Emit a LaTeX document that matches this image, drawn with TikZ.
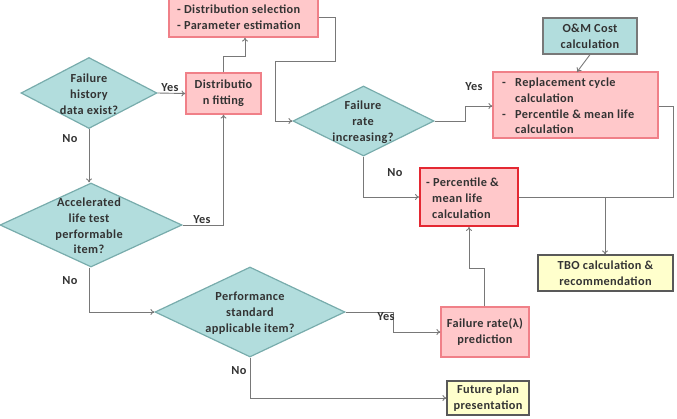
\documentclass[tikz,border=0pt]{standalone}
\usepackage{fontspec}
\setmainfont[LetterSpace=3]{Carlito}
\usetikzlibrary{shapes.geometric,arrows.meta}
\definecolor{tealfill}{RGB}{178,221,221}
\definecolor{tealline}{RGB}{120,172,172}
\definecolor{pinkfill}{RGB}{255,200,202}
\definecolor{pinkline}{RGB}{240,128,136}
\definecolor{redline}{RGB}{228,40,50}
\definecolor{yelfill}{RGB}{255,255,204}
\definecolor{conn}{RGB}{120,120,120}
\tikzset{
  x=1pt,y=-1pt,
  every node/.style={font=\bfseries\fontsize{12.3}{15.8}\selectfont, text=black!80},
  dia/.style={shape=diamond, draw=tealline, fill=tealfill, line width=1.2pt, inner sep=0pt},
  diatext/.style={align=center, inner sep=0pt},
  pinkbox/.style={draw=pinkline, fill=pinkfill, line width=1.2pt, inner sep=0pt},
  redbox/.style={draw=redline, fill=pinkfill, line width=1.8pt, inner sep=0pt},
  tealbox/.style={draw=conn, fill=tealfill, line width=1.2pt, inner sep=0pt},
  yelbox/.style={draw=black!65, fill=yelfill, line width=1.2pt, inner sep=0pt},
  conn/.style={draw=conn, line width=0.9pt, -{To[length=4pt,width=6pt]}},
  plain/.style={draw=conn, line width=0.9pt},
  lbl/.style={inner sep=0pt},
}
\begin{document}
\begin{tikzpicture}
\useasboundingbox (0,0) rectangle (677,418);
% diamonds
\node[dia, minimum width=136pt, minimum height=71pt] (d1) at (89,93) {};
\node[diatext] (d1t) at (89,94) {Failure\\history\\data exist?};
\node[dia, minimum width=182pt, minimum height=84pt] (d2) at (91,225) {};
\node[diatext] (d2t) at (89,226) {Accelerated\\life test\\performable\\item?};
\node[dia, minimum width=141pt, minimum height=70pt] (d3) at (363.5,121) {};
\node[diatext] (d3t) at (363,122) {Failure\\rate\\increasing?};
\node[dia, minimum width=190pt, minimum height=90pt] (d4) at (250,312) {};
\node[diatext] (d4t) at (250,313) {Performance\\standard\\applicable item?};
% boxes
\node[pinkbox, minimum width=149pt, minimum height=42pt] (sel) at (243.5,16) {};
\node[lbl, anchor=west, align=left] (selt) at (177,17) {- Distribution selection\\- Parameter estimation};
\node[pinkbox, minimum width=75pt, minimum height=41pt, align=center] (fit) at (223.5,93.5) {Distributio\\n fitting};
\node[tealbox, minimum width=94pt, minimum height=36pt, align=center] (om) at (590,36) {O\&M Cost\\calculation};
\node[pinkbox, minimum width=165pt, minimum height=66pt] (rep) at (575.5,105) {};
\node[lbl, anchor=west, align=left] (rept) at (502,106) {\makebox[13pt][l]{-}Replacement cycle\\\hspace*{13pt}calculation\\\makebox[13pt][l]{-}Percentile \& mean life\\\hspace*{13pt}calculation};
\node[redbox, minimum width=98pt, minimum height=58pt] (pct) at (469,197) {};
\node[lbl, anchor=west, align=left] (pctt) at (426,198) {- Percentile \&\\\hspace*{6pt}mean life\\\hspace*{6pt}calculation};
\node[pinkbox, minimum width=88pt, minimum height=50pt, align=center] (fr) at (485,332) {Failure rate(λ)\\prediction};
\node[yelbox, minimum width=135pt, minimum height=36pt, align=center] (tbo) at (605.5,273) {TBO calculation \&\\recommendation};
\node[yelbox, minimum width=82pt, minimum height=34pt, align=center] (fut) at (488,398) {Future plan\\presentation};
% junctions
\coordinate (jA) at (605,197);
% connectors
\draw[conn] (d1.east) -- (fit.west);
\node[lbl] (y1) at (170,88) {Yes};
\draw[conn] (d1.south) -- (d1.south |- d2.north);
\node[lbl] (n1) at (70,139) {No};
\draw[conn] (fit.north) |- (245,56) -- (245,56 |- sel.south);
\draw[conn] (d2.east) -| (fit.south);
\node[lbl] (y2) at (202,220) {Yes};
\draw[conn] (sel.east |- 0,17) -| (335,61) -| (275,121) -- (d3.west);
\draw[conn] (d3.east) -| (465,106) -- (rep.west |- 0,106);
\node[lbl] (y3) at (474,87) {Yes};
\draw[conn] (d3.south) |- (pct.west);
\node[lbl] (n3) at (395,173) {No};
\draw[plain] (rep.east |- 0,106) -| (673,197) -- (jA);
\draw[plain] (pct.east) -- (jA);
\draw[conn] (jA) -- (tbo.north -| jA);
\draw[conn] (om.south) -- (577,72);
\draw[conn] (d2.south -| 89,0) |- (d4.west);
\node[lbl] (n2) at (70,281) {No};
\draw[conn] (d4.east) -| (393,332) -- (fr.west);
\node[lbl] (y4) at (386,317) {Yes};
\draw[conn] (fr.north -| 484,0) |- (469,268) -- (469,268 |- pct.south);
\draw[conn] (d4.south) |- (fut.west);
\node[lbl] (n4) at (239,371) {No};
\end{tikzpicture}
\end{document}
